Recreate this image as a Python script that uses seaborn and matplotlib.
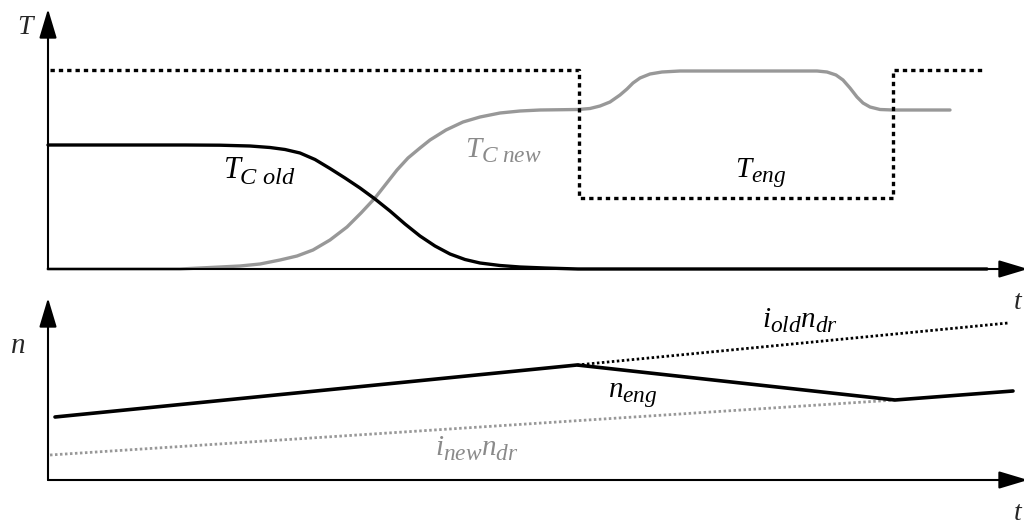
import numpy as np
import pandas as pd
import matplotlib
matplotlib.use("Agg")
import matplotlib.pyplot as plt
import matplotlib._mathtext as _mt
import seaborn as sns

sns.set_theme(style="white")
plt.rcParams["font.family"] = ["Liberation Serif", "DejaVu Serif"]
plt.rcParams["mathtext.fontset"] = "custom"
plt.rcParams["mathtext.it"] = "Liberation Serif:italic"
plt.rcParams["mathtext.rm"] = "Liberation Serif"
plt.rcParams["mathtext.default"] = "it"
_mt.SHRINK_FACTOR = 0.8  # larger subscripts, as in the reference
_mt.FontConstantsBase.sub1 = 0.4

# ---------------- data (schematic units) ----------------
# top panel: torque T vs time t
t_eng = [2, 531, 531, 845, 845, 935]
T_eng = [199, 199, 71, 71, 199, 199]

t_cold = [0, 137, 172, 202, 222, 237, 252, 267, 282, 297, 312, 327, 342, 357, 372,
          387, 402, 417, 432, 452, 472, 497, 530, 939]
T_cold = [124, 124, 123.8, 123, 121.5, 119.5, 116, 109.5, 100.5, 91, 81, 70, 58, 45, 33,
          23, 15, 9.5, 6, 3.5, 2, 1, 0, 0]

t_cnew = [0, 132, 162, 192, 212, 232, 249, 265, 282, 299, 313, 327, 338, 349, 360,
          372, 382, 398, 415, 432, 452, 472, 492, 530, 542, 552, 562, 572, 579, 585,
          592, 602, 614, 632, 769, 779, 788, 795, 802, 809, 815, 822, 832, 845, 902]
T_cnew = [0, 0, 1.5, 3, 5, 9, 13, 19, 29, 42, 56, 71, 85, 99, 111,
          121, 129, 139, 147, 152, 156, 158, 159, 159.5, 160.5, 163, 167, 174, 180, 186,
          191, 195, 197, 198, 198, 197, 194, 189, 181, 172, 166, 162, 159.5, 159, 159]

# bottom panel: speed n vs time t
t_neng = [7, 529, 847, 965]
n_neng = [63, 115, 80, 89]

t_iold = [529, 960]
n_iold = [115, 157]

t_inew = [2, 847]
n_inew = [25, 80]

# ---------------- figure ----------------
W, H = 1024, 525
fig = plt.figure(figsize=(W / 100, H / 100), dpi=100)
top_rows = 300
ax1 = fig.add_axes([0, 1 - top_rows / H, 1, top_rows / H])
ax2 = fig.add_axes([0, 0, 1, 1 - top_rows / H])
for ax in (ax1, ax2):
    ax.set_xlim(-48, W - 48)
    ax.axis("off")
ax1.set_ylim(269 - top_rows, 269)
ax2.set_ylim(480 - H, 480 - top_rows)

GRAY = "#989898"
GRAY_T = "#8a8a8a"

arrow_kw = dict(arrowstyle="-|>,head_length=0.9,head_width=0.27", color="black",
                lw=1.5, mutation_scale=20, shrinkA=0, shrinkB=0)

# axes arrows
ax1.annotate("", xy=(0, 260), xytext=(0, 0), arrowprops=arrow_kw, annotation_clip=False)
ax1.annotate("", xy=(980, 0), xytext=(0, 0), arrowprops=arrow_kw, annotation_clip=False)
ax2.annotate("", xy=(0, 182), xytext=(0, 0), arrowprops=arrow_kw, annotation_clip=False)
ax2.annotate("", xy=(980, 0), xytext=(0, 0), arrowprops=arrow_kw, annotation_clip=False)

# top curves
sns.lineplot(x=t_cnew, y=T_cnew, ax=ax1, color=GRAY, lw=2.4, estimator=None, sort=False)
sns.lineplot(x=t_cold, y=T_cold, ax=ax1, color="black", lw=2.4, estimator=None, sort=False)
sns.lineplot(x=t_eng, y=T_eng, ax=ax1, color="black", lw=2.4, estimator=None, sort=False)
ax1.lines[-1].set_linestyle((0, (1.3, 1.2)))
ax1.lines[-1].set_dash_capstyle("butt")

# bottom curves
sns.lineplot(x=t_inew, y=n_inew, ax=ax2, color=GRAY, lw=2.0, estimator=None, sort=False)
ax2.lines[-1].set_linestyle((0, (0.9, 0.9)))
sns.lineplot(x=t_iold, y=n_iold, ax=ax2, color="black", lw=2.0, estimator=None, sort=False)
ax2.lines[-1].set_linestyle((0, (0.9, 0.9)))
sns.lineplot(x=t_neng, y=n_neng, ax=ax2, color="black", lw=2.6, estimator=None, sort=False)

for ax in (ax1, ax2):
    for ln in ax.lines:
        ln.set_clip_on(False)
        ln.set_solid_joinstyle("round")

FS = 21
txt = dict(ha="left", va="baseline")
ax1.text(-31, 235, "$T$", fontsize=20, **txt)
ax1.text(965, -40, "$t$", fontsize=20, **txt)
ax1.text(175, 91, r"$T_{C\ old}$", color="black", fontsize=22, **txt)
ax1.text(417, 112, r"$T_{C\ new}$", color=GRAY_T, fontsize=FS, **txt)
ax1.text(687, 92, r"$T_{eng}$", color="black", fontsize=FS, **txt)

ax2.text(-38, 127, "$n$", fontsize=21, **txt)
ax2.text(965, -40, "$t$", fontsize=20, **txt)
ax2.text(714, 153, r"$i_{old}n_{dr}$", color="black", fontsize=FS, **txt)
ax2.text(560, 83, r"$n_{eng}$", color="black", fontsize=FS, **txt)
ax2.text(387, 25, r"$i_{new}n_{dr}$", color=GRAY_T, fontsize=FS, **txt)

fig.savefig("out.png", dpi=100)
